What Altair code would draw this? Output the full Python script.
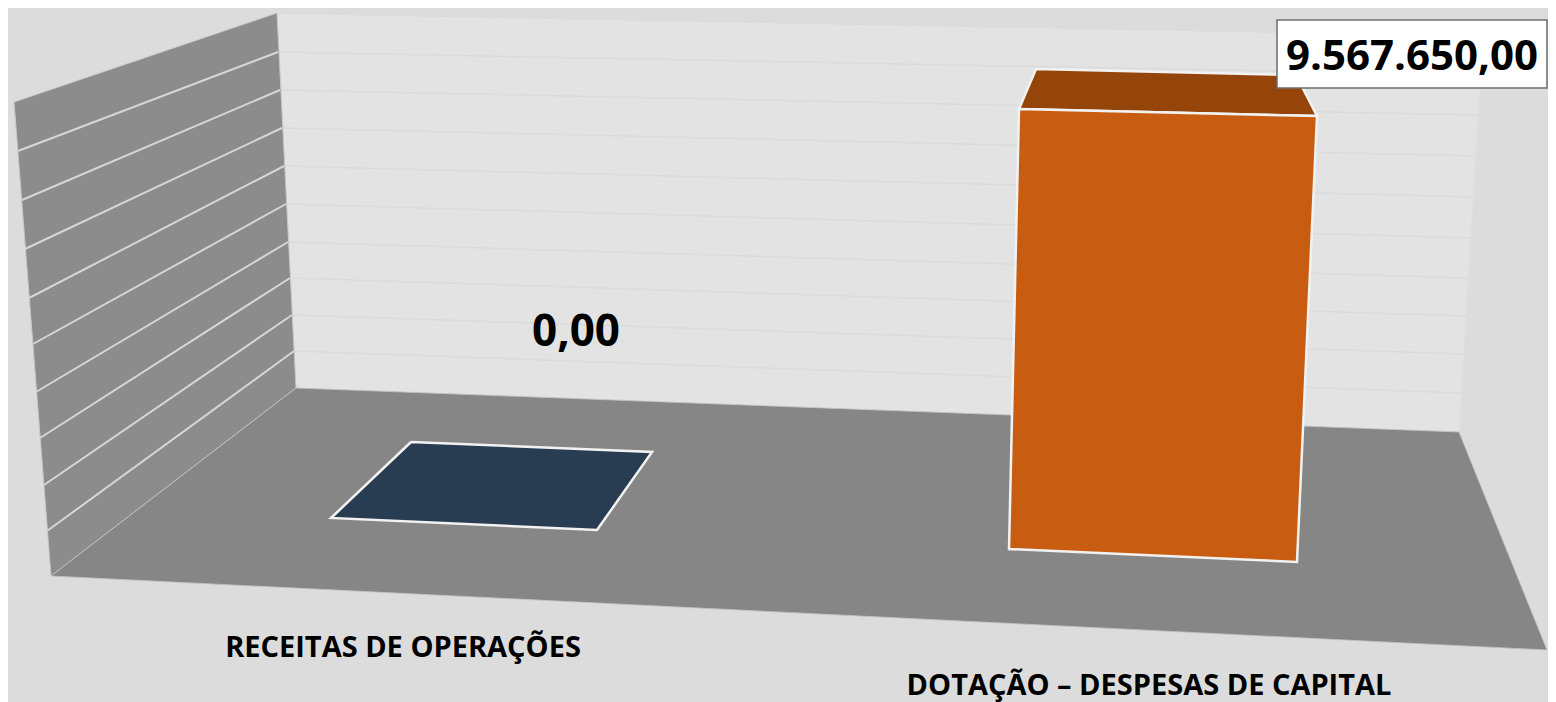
import altair as alt
import pandas as pd

X0, X1, Y0, Y1 = 8, 1548, 8, 702

# chart content
categories = ["RECEITAS DE OPERAÇÕES", "DOTAÇÃO – DESPESAS DE CAPITAL"]
value_labels = ["0,00", "9.567.650,00"]

# picture-read outlines of the 3D scene
back_wall = [(277, 13), (1483, 36), (1459, 432), (296, 388)]
left_wall = [(14, 102), (277, 13), (296, 388), (51, 576)]
floor = [(296, 388), (1459, 432), (1547, 650), (51, 576)]
flat_bar = [(411, 442), (652, 452), (597, 530), (331, 518)]
bar_front = [(1019, 109), (1317, 116), (1297, 562), (1009, 549)]
bar_top = [(1036, 69), (1296, 75), (1317, 116), (1019, 109)]

# gridlines
left_grid_outer = [(18, 151), (22, 200), (25, 249), (29, 298), (33, 344),
                   (36, 392), (40, 438), (44, 485), (47, 531)]
left_grid_inner = [(278, 52), (280, 90), (282, 128), (284, 166), (286, 204),
                   (288, 242), (290, 278), (292, 315), (294, 351)]
back_grid_left = [(277, 13), (278, 52), (280, 90), (282, 128), (284, 166), (286, 204),
                  (288, 242), (290, 278), (292, 315), (294, 351)]
back_grid_right = [(1483, 36), (1481, 75), (1479, 115), (1476, 156), (1474, 197), (1472, 238),
                   (1469, 278), (1467, 316), (1464, 354), (1462, 393)]

# value box
box_x = (1277, 1547)
box_y = (20, 88)

x_scale = alt.Scale(domain=[X0, X1], zero=False, nice=False)
y_scale = alt.Scale(domain=[Y1, Y0], zero=False, nice=False)
X = alt.X("x:Q", scale=x_scale, axis=None)
Y = alt.Y("y:Q", scale=y_scale, axis=None)


def area_rows(poly):
    """Upper and lower edge of a convex outline at each of its x positions."""
    rows = []
    n = len(poly)
    for px in sorted({p[0] for p in poly}):
        ys = []
        for i in range(n):
            (ax, ay), (bx, by) = poly[i], poly[(i + 1) % n]
            if min(ax, bx) <= px <= max(ax, bx):
                if ax == bx:
                    ys += [ay, by]
                else:
                    ys.append(ay + (by - ay) * (px - ax) / (bx - ax))
        rows.append({"x": px, "y": min(ys), "y2": max(ys)})
    return rows


def face(poly, fill, stroke=None, width=0.0):
    base = alt.Chart(pd.DataFrame(area_rows(poly)))
    layer = base.mark_area(color=fill, opacity=1).encode(x=X, y=Y, y2="y2:Q")
    if stroke is None:
        return layer
    closed = poly + poly[:1]
    ring = pd.DataFrame([{"x": p[0], "y": p[1], "i": i} for i, p in enumerate(closed)])
    return layer + alt.Chart(ring).mark_line(color=stroke, strokeWidth=width, strokeJoin="miter").encode(
        x=X, y=Y, order="i:Q")


def rules(starts, ends, color, width):
    df = pd.DataFrame([{"x": a[0], "y": a[1], "x2": b[0], "y2": b[1]} for a, b in zip(starts, ends)])
    return alt.Chart(df).mark_rule(color=color, strokeWidth=width).encode(x=X, y=Y, x2="x2:Q", y2="y2:Q")


def label(text, x, y, size, color="#000000"):
    df = pd.DataFrame([{"x": x, "y": y, "t": text}])
    return alt.Chart(df).mark_text(font="Open Sans", fontWeight="bold", fontSize=size, color=color,
                                   align="center", baseline="middle").encode(x=X, y=Y, text="t:N")


box = alt.Chart(pd.DataFrame([{"x": box_x[0], "x2": box_x[1], "y": box_y[0], "y2": box_y[1]}])).mark_rect(
    fill="#ffffff", stroke="#6e6e6e", strokeWidth=1.5).encode(x=X, y=Y, x2="x2:Q", y2="y2:Q")

chart = alt.layer(
    face(back_wall, "#e3e3e3", "#dfdfdf", 1),
    rules(back_grid_left, back_grid_right, "#dbdbdb", 1.5),
    face(left_wall, "#8c8c8c", "#c8c8c8", 1),
    rules(left_grid_outer, left_grid_inner, "#d6d6d6", 2),
    face(floor, "#868686", "#c4c4c4", 0.8),
    face(flat_bar, "#283c52", "#f2f2f2", 2.5),
    face(bar_top, "#95450a", "#f2f2f2", 2.5),
    face(bar_front, "#c85d12", "#f2f2f2", 2.5),
    box,
    label(value_labels[0], 576, 333, 44),
    label(value_labels[1], 1412, 57, 42),
    label(categories[0], 403, 648, 29),
    label(categories[1], 1149, 686, 29),
).properties(
    width=X1 - X0,
    height=Y1 - Y0,
    padding=0,
    background="#dcdcdc",
    autosize=alt.AutoSizeParams(type="none"),
).configure_view(stroke=None)

chart.save("out.html", embed_options={"renderer": "svg", "actions": False})
